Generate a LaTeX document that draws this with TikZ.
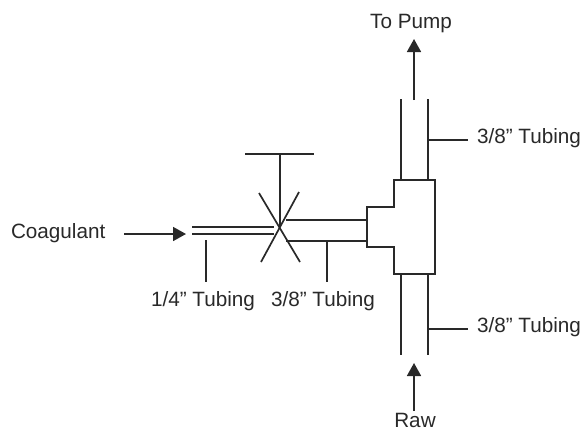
\documentclass[tikz,border=0pt]{standalone}
\usepackage{fontspec}
\setmainfont{Liberation Sans}
\usetikzlibrary{arrows.meta}
\definecolor{ink}{gray}{0.16}
\begin{document}
\begin{tikzpicture}[
  x = 1pt,
  y = -1pt,
  label/.style = {
    text = ink,
    font = \fontsize{20.7}{24}\selectfont,
    inner sep = 0pt,
    outer sep = 0pt,
  },
  flow/.style = {
    -{Triangle[length = 13pt, width = 14pt]},
  },
  every path/.style = {
    draw = ink,
    line width = 1.7pt
  }
]
  \useasboundingbox[draw = none] (0, 0) rectangle (583, 432);

  % labels
  \node[label, anchor = base] (pump) at (411, 28.5) {To Pump};
  \node[label, anchor = base] (raw) at (415, 427.5) {Raw};
  \node[label, anchor = base west] (coag) at (11, 238) {Coagulant};
  \node[label, anchor = base west] (upper) at (477, 143) {3/8” Tubing};
  \node[label, anchor = base west] (lower) at (477, 332) {3/8” Tubing};
  \node[label, anchor = base west] (small) at (151, 306) {1/4” Tubing};
  \node[label, anchor = base west] (side) at (271, 306) {3/8” Tubing};

  % valve
  \coordinate (v) at (280, 227);
  \coordinate (hl) at (245, 154);
  \coordinate (hm) at (280, 154);
  \coordinate (hr) at (314, 154);
  \draw (hl) -- (hr);
  \draw (hm) -- (v);
  \draw (259, 193) -- (300, 262);
  \draw (299, 192) -- (261, 262);

  % tee
  \draw (367, 207) -- (394, 207) -- (394, 180) -- (435, 180) -- (435, 274)
    -- (394, 274) -- (394, 247) -- (367, 247) -- cycle;

  % small tubing
  \coordinate (sa) at (192, 227);
  \coordinate (sb) at (274, 227);
  \coordinate (sc) at (192, 234);
  \coordinate (sd) at (274, 234);
  \draw (sa) -- (sb);
  \draw (sc) -- (sd);

  % side tubing
  \coordinate (ta) at (286, 220);
  \coordinate (tb) at (367, 220);
  \coordinate (tc) at (286, 241);
  \coordinate (td) at (367, 241);
  \draw (ta) -- (tb);
  \draw (tc) -- (td);

  % upper tubing
  \coordinate (ua) at (401, 99);
  \coordinate (ub) at (401, 180);
  \coordinate (uc) at (428, 99);
  \coordinate (ud) at (428, 180);
  \draw (ua) -- (ub);
  \draw (uc) -- (ud);

  % lower tubing
  \coordinate (la) at (401, 274);
  \coordinate (lb) at (401, 355);
  \coordinate (lc) at (428, 274);
  \coordinate (ld) at (428, 355);
  \draw (la) -- (lb);
  \draw (lc) -- (ld);

  % leaders
  \coordinate (a1) at (206, 240);
  \coordinate (a2) at (206, 282);
  \coordinate (b1) at (327, 241);
  \coordinate (b2) at (327, 282);
  \coordinate (c1) at (428, 140);
  \coordinate (c2) at (468, 140);
  \coordinate (d1) at (428, 329);
  \coordinate (d2) at (468, 329);
  \draw (a1) -- (a2);
  \draw (b1) -- (b2);
  \draw (c1) -- (c2);
  \draw (d1) -- (d2);

  % flow arrows
  \coordinate (f1) at (124, 234);
  \coordinate (f2) at (186, 234);
  \coordinate (g1) at (414, 100);
  \coordinate (g2) at (414, 39);
  \coordinate (h1) at (414, 411);
  \coordinate (h2) at (414, 363);
  \draw[flow] (f1) -- (f2);
  \draw[flow] (g1) -- (g2);
  \draw[flow] (h1) -- (h2);
\end{tikzpicture}
\end{document}
